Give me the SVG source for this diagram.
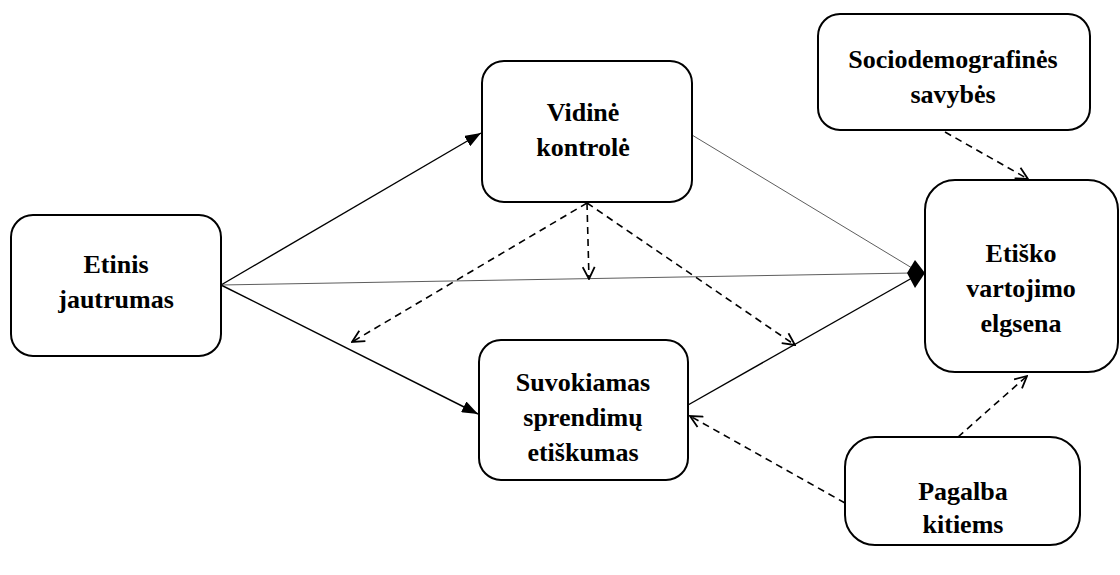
<svg xmlns="http://www.w3.org/2000/svg" width="1120" height="575" viewBox="0 0 1120 575">
<style>
.box{fill:#fff;stroke:#000;stroke-width:2}
text{font-family:"Times New Roman","DejaVu Serif",serif;font-weight:bold;font-size:26px;text-anchor:middle;fill:#000}
.solid{stroke:#000;stroke-width:1.4;fill:none}
.thin{stroke:#333;stroke-width:0.8;fill:none}
.dash{stroke:#000;stroke-width:1.6;fill:none;stroke-dasharray:7,5}
</style>
<defs>
<marker id="fa" viewBox="0 0 16 12" refX="16" refY="6" markerWidth="16" markerHeight="12" markerUnits="userSpaceOnUse" orient="auto">
<path d="M0,0 L16,6 L0,12 Z" fill="#000"/>
</marker>
<marker id="oa" viewBox="0 0 14 14" refX="13" refY="7" markerWidth="14" markerHeight="14" markerUnits="userSpaceOnUse" orient="auto">
<path d="M1,1 L13,7 L1,13" fill="none" stroke="#000" stroke-width="1.8"/>
</marker>
</defs>
<rect width="1120" height="575" fill="#fff"/>
<g id="connectors">
<line class="solid" x1="221" y1="285" x2="481" y2="133" marker-end="url(#fa)"/>
<line class="solid" x1="221" y1="285" x2="478" y2="414" marker-end="url(#fa)"/>
<line class="thin" x1="221" y1="285" x2="912" y2="273"/>
<line class="thin" x1="692" y1="135" x2="912" y2="268"/>
<line class="solid" x1="688" y1="405" x2="912" y2="278"/>
<polygon points="925,273 915,260 907,273 915,288" fill="#000"/>
<line class="dash" x1="587" y1="203" x2="352" y2="342" marker-end="url(#oa)"/>
<line class="dash" x1="587" y1="203" x2="589" y2="279" marker-end="url(#oa)"/>
<line class="dash" x1="587" y1="203" x2="795" y2="345" marker-end="url(#oa)"/>
<line class="dash" x1="845" y1="503" x2="690" y2="416" marker-end="url(#oa)"/>
<line class="dash" x1="958" y1="437" x2="1027" y2="376" marker-end="url(#oa)"/>
<line class="dash" x1="945" y1="132" x2="1028" y2="179" marker-end="url(#oa)"/>
</g>
<g id="etinis">
<rect class="box" x="11" y="215" width="210" height="141" rx="22"/>
<text x="116" y="273">Etinis</text>
<text x="116" y="308">jautrumas</text>
</g>
<g id="vidine">
<rect class="box" x="482" y="61" width="210" height="141" rx="22"/>
<text x="583" y="121">Vidinė</text>
<text x="583" y="156">kontrolė</text>
</g>
<g id="suvokiamas">
<rect class="box" x="479" y="340" width="209" height="140" rx="22"/>
<text x="583" y="391">Suvokiamas</text>
<text x="583" y="426">sprendimų</text>
<text x="583" y="461">etiškumas</text>
</g>
<g id="etisko">
<rect class="box" x="925" y="180" width="193" height="192" rx="30"/>
<text x="1021" y="262">Etiško</text>
<text x="1021" y="297">vartojimo</text>
<text x="1021" y="332">elgsena</text>
</g>
<g id="socio">
<rect class="box" x="818" y="14" width="272" height="116" rx="22"/>
<text x="953" y="68">Sociodemografinės</text>
<text x="953" y="103">savybės</text>
</g>
<g id="pagalba">
<rect class="box" x="845" y="437" width="235" height="108" rx="30"/>
<text x="963" y="500">Pagalba</text>
<text x="963" y="533">kitiems</text>
</g>
</svg>
